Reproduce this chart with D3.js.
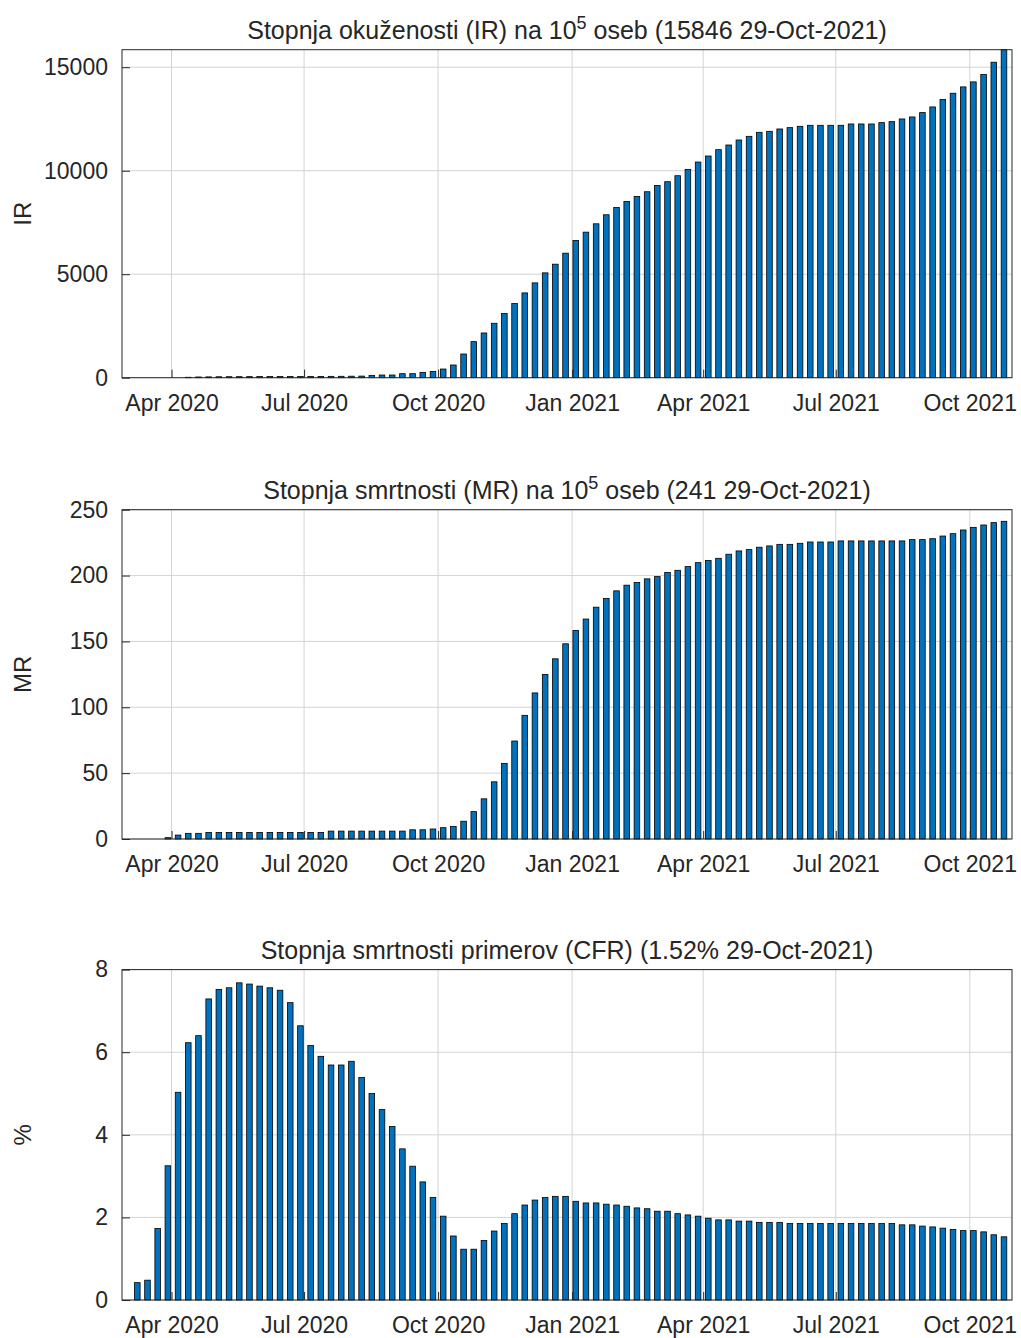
<!DOCTYPE html>
<html>
<head>
<meta charset="utf-8">
<script src="https://cdn.jsdelivr.net/npm/d3@7"></script>
<style>
body { margin: 0; background: #fff; }
text { font-family: "Liberation Sans", Arial, sans-serif; fill: #262626; }
</style>
</head>
<body>
<svg id="chart" width="1021" height="1338"></svg>
<script>
// weekly values, first week starts 8 Mar 2020
var startDate = new Date(2020, 2, 8, 12);

var irValues = [0, 0, 0, 0, 0, 20, 35, 40, 45, 48, 50, 52, 54, 55, 56, 57, 58, 60, 62, 65, 68, 72, 78,
  113, 130, 130, 194, 194, 258, 306, 419, 613, 1145, 1742, 2161, 2629, 3097, 3581, 4097, 4581, 5065, 5484, 6016,
  6629, 7032, 7435, 7871, 8226, 8516, 8758, 8984, 9290, 9468, 9758, 10065, 10419, 10710, 11016, 11242, 11484,
  11661, 11855, 11903, 12016, 12081, 12145, 12194, 12194, 12194, 12194, 12258, 12258, 12258, 12323, 12371,
  12500, 12597, 12807, 13081, 13436, 13742, 14049, 14291, 14646, 15242, 15846];

var mrValues = [0, 0, 0, 1, 3, 4.3, 4.3, 5, 5, 5, 5, 5, 5, 5, 5, 5, 5, 5, 5, 6, 6, 6, 6, 6, 6, 6, 6, 7, 7,
  7.6, 8.6, 9.6, 13.5, 20.8, 30.5, 43.4, 57.4, 74.4, 93.9, 110.9, 124.9, 136.8,
  148.2, 158.3, 167, 176, 182.6, 188.4, 192.7, 194.7, 197.5, 199.2, 202.3, 204, 206.8, 209.8, 211.4, 213.1,
  216.2, 218.7, 219.7, 221.5, 222.5, 223.7, 223.7, 224.5, 225.5, 225.5, 225.5, 226.3, 226.3, 226.3, 226.3,
  226.3, 226.3, 226.3, 227.3, 227.3, 228, 230, 231.8, 234.6, 236.6, 238.4, 240.2, 241.2];

var cfrValues = [0.42, 0.48, 1.73, 3.25, 5.03, 6.23, 6.40, 7.29, 7.52, 7.56, 7.68, 7.65, 7.60, 7.56, 7.50,
  7.20, 6.64, 6.16, 5.90, 5.69, 5.69, 5.78, 5.39, 5.00, 4.61, 4.20, 3.66, 3.24, 2.86, 2.48, 2.03, 1.55,
  1.23, 1.23, 1.44, 1.67, 1.85, 2.09, 2.30, 2.42, 2.48, 2.51,
  2.51, 2.39, 2.35, 2.35, 2.32, 2.30, 2.27, 2.23, 2.21, 2.15, 2.15, 2.09, 2.06, 2.03, 1.98, 1.94, 1.94,
  1.91, 1.91, 1.88, 1.88, 1.88, 1.85, 1.85, 1.85, 1.85, 1.85, 1.85, 1.85, 1.85, 1.85, 1.85, 1.85, 1.82,
  1.82, 1.79, 1.77, 1.74, 1.71, 1.68, 1.68, 1.65, 1.58, 1.53];

var panels = [
  { values: irValues, top: 49.7, bottom: 377.7, yMax: 15846, yTicks: [0, 5000, 10000, 15000], ylabel: "IR",
    title: ["Stopnja okuženosti (IR) na 10", "5", " oseb (15846 29-Oct-2021)"] },
  { values: mrValues, top: 509.7, bottom: 839, yMax: 250, yTicks: [0, 50, 100, 150, 200, 250], ylabel: "MR",
    title: ["Stopnja smrtnosti (MR) na 10", "5", " oseb (241 29-Oct-2021)"] },
  { values: cfrValues, top: 969.6, bottom: 1300, yMax: 8, yTicks: [0, 2, 4, 6, 8], ylabel: "%",
    title: ["Stopnja smrtnosti primerov (CFR) (1.52% 29-Oct-2021)"] }
];

var svg = d3.select("#chart");
var left = 122, right = 1012;
var x = d3.scaleTime()
  .domain([new Date(2020, 1, 27), new Date(2021, 9, 30)])
  .range([left, right]);
var xTicks = d3.timeMonth.every(3).range(new Date(2020, 3, 1), new Date(2021, 10, 1));
var barW = 5.6;

panels.forEach(function (p) {
  var y = d3.scaleLinear().domain([0, p.yMax]).range([p.bottom, p.top]);
  var g = svg.append("g");
  var h = p.bottom - p.top;

  // grid
  g.selectAll(".gx").data(xTicks).enter().append("line")
    .attr("x1", d => x(d)).attr("x2", d => x(d))
    .attr("y1", p.top).attr("y2", p.bottom)
    .attr("stroke", "#d4d4d4").attr("stroke-width", 1);
  g.selectAll(".gy").data(p.yTicks).enter().append("line")
    .attr("x1", left).attr("x2", right)
    .attr("y1", d => y(d)).attr("y2", d => y(d))
    .attr("stroke", "#d4d4d4").attr("stroke-width", 1);

  // bars
  g.selectAll("rect.bar").data(p.values).enter().append("rect")
    .attr("x", (d, i) => x(d3.timeDay.offset(startDate, 7 * i)) - barW / 2)
    .attr("width", barW)
    .attr("y", d => y(d))
    .attr("height", d => p.bottom - y(d))
    .attr("fill", "#0072BD")
    .attr("stroke", "#000").attr("stroke-width", 0.8);

  // axes
  var xa = g.append("g").attr("transform", "translate(0," + p.bottom + ")")
    .call(d3.axisBottom(x).tickValues(xTicks).tickFormat(d3.timeFormat("%b %Y")).tickSizeInner(-8).tickSizeOuter(0).tickPadding(17));
  var ya = g.append("g").attr("transform", "translate(" + left + ",0)")
    .call(d3.axisLeft(y).tickValues(p.yTicks).tickFormat(d3.format("d")).tickSizeInner(-8).tickSizeOuter(0).tickPadding(14));
  [xa, ya].forEach(function (a) {
    a.select(".domain").remove();
    a.selectAll("line").attr("stroke", "#262626");
    a.selectAll("text").style("font-size", "23px").attr("fill", "#262626");
  });

  // box
  g.append("rect").attr("x", left).attr("y", p.top).attr("width", right - left).attr("height", h)
    .attr("fill", "none").attr("stroke", "#262626").attr("stroke-width", 1);

  // y label
  g.append("text")
    .attr("transform", "translate(31," + (p.top + h / 2) + ") rotate(-90)")
    .attr("text-anchor", "middle").style("font-size", "24px").text(p.ylabel);

  // title
  var t = g.append("text").attr("x", (left + right) / 2).attr("y", p.top - 11)
    .attr("text-anchor", "middle").style("font-size", "25px");
  t.append("tspan").text(p.title[0]);
  if (p.title.length > 1) {
    t.append("tspan").attr("dy", -10).style("font-size", "18px").text(p.title[1]);
    t.append("tspan").attr("dy", 10).text(p.title[2]);
  }
});
</script>
</body>
</html>
